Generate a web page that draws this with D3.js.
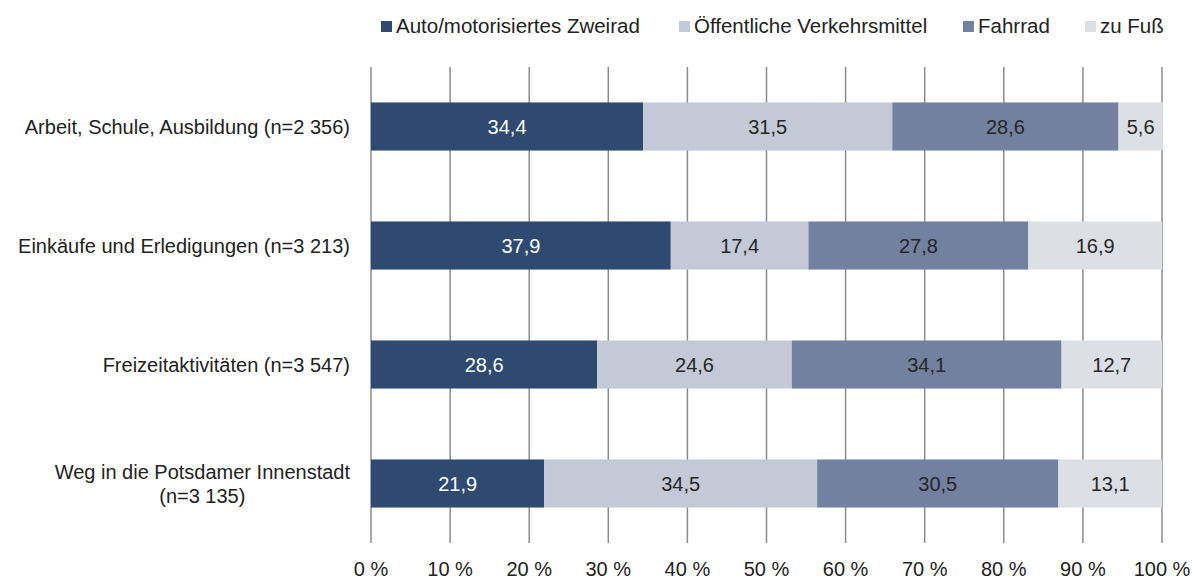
<!DOCTYPE html>
<html>
<head>
<meta charset="utf-8">
<script src="https://cdn.jsdelivr.net/npm/d3@7"></script>
<style>
  html, body { margin: 0; padding: 0; background: #fff; }
  svg { display: block; font-family: "Liberation Sans", Arial, sans-serif; }
</style>
</head>
<body>
<svg id="chart" width="1192" height="581"></svg>
<script>
// Modal split by trip purpose (shares in %)
const categories = [
  ["Arbeit, Schule, Ausbildung (n=2 356)"],
  ["Einkäufe und Erledigungen (n=3 213)"],
  ["Freizeitaktivitäten (n=3 547)"],
  ["Weg in die Potsdamer Innenstadt", "(n=3 135)"]
];
const seriesNames = ["Auto/motorisiertes Zweirad", "Öffentliche Verkehrsmittel", "Fahrrad", "zu Fuß"];
const autoValues = [34.4, 37.9, 28.6, 21.9];
const oepnvValues = [31.5, 17.4, 24.6, 34.5];
const fahrradValues = [28.6, 27.8, 34.1, 30.5];
const fussValues = [5.6, 16.9, 12.7, 13.1];
const tickValues = [0, 10, 20, 30, 40, 50, 60, 70, 80, 90, 100];

const seriesValues = [autoValues, oepnvValues, fahrradValues, fussValues];
const colors = ["#2e4a70", "#c3c9d6", "#72819f", "#dce0e5"];
const labelColors = ["#ffffff", "#262626", "#262626", "#262626"];

const svg = d3.select("#chart");
const margin = { left: 371, right: 30, top: 67, bottom: 38 };
const W = 1192, H = 581;
const fs = 20;

const x = d3.scaleLinear().domain([0, 100]).range([margin.left, 1162]);
const y = d3.scaleBand().domain(d3.range(categories.length))
  .range([margin.top, H - margin.bottom]).paddingInner(0.596).paddingOuter(0.298);

// Rows for stacking
const rows = categories.map((c, i) => {
  const r = { idx: i };
  seriesNames.forEach((s, k) => r[s] = seriesValues[k][i]);
  return r;
});
const stack = d3.stack().keys(seriesNames)(rows);

// Vertical gridlines
const gridTop = margin.top, gridBottom = H - margin.bottom;
svg.append("g").selectAll("line").data(tickValues).join("line")
  .attr("x1", d => x(d)).attr("x2", d => x(d))
  .attr("y1", gridTop).attr("y2", gridBottom)
  .attr("stroke", "#8c8c8c").attr("stroke-width", 1.5);

// Bars
const layers = svg.append("g").selectAll("g").data(stack).join("g")
  .attr("fill", (d, k) => colors[k]);
layers.selectAll("rect").data(d => d).join("rect")
  .attr("x", d => x(d[0]))
  .attr("width", d => x(d[1]) - x(d[0]))
  .attr("y", d => y(d.data.idx))
  .attr("height", y.bandwidth());

// Value labels inside bars
const fmt = v => d3.format(".1f")(v).replace(".", ",");
stack.forEach((layer, k) => {
  svg.append("g").selectAll("text").data(layer).join("text")
    .attr("x", d => (x(d[0]) + x(d[1])) / 2)
    .attr("y", d => y(d.data.idx) + y.bandwidth() / 2)
    .attr("dy", "0.35em")
    .attr("text-anchor", "middle")
    .attr("font-size", fs)
    .attr("fill", labelColors[k])
    .text(d => fmt(d[1] - d[0]));
});

// X axis tick labels
svg.append("g").selectAll("text").data(tickValues).join("text")
  .attr("x", d => x(d)).attr("y", 576)
  .attr("text-anchor", "middle")
  .attr("font-size", fs).attr("fill", "#222")
  .text(d => d + " %");

// Category labels (multi-line labels are centred within their block)
const labelRight = 350;
categories.forEach((lines, i) => {
  const cy = y(i) + y.bandwidth() / 2;
  const g = svg.append("g");
  const lh = 24;
  const texts = lines.map((t, j) => g.append("text")
    .attr("y", cy + (j - (lines.length - 1) / 2) * lh)
    .attr("dy", "0.35em")
    .attr("font-size", fs).attr("fill", "#222")
    .text(t));
  if (lines.length === 1) {
    texts[0].attr("x", labelRight).attr("text-anchor", "end");
  } else {
    const maxW = d3.max(texts, t => t.node().getComputedTextLength());
    texts.forEach(t => t.attr("x", labelRight - maxW / 2).attr("text-anchor", "middle"));
  }
});

// Legend
const legend = svg.append("g");
const legendX = [381, 679, 963, 1085];
seriesNames.forEach((s, k) => {
  legend.append("rect")
    .attr("x", legendX[k]).attr("y", 21).attr("width", 11).attr("height", 11)
    .attr("fill", colors[k]);
  legend.append("text")
    .attr("x", legendX[k] + 15).attr("y", 26).attr("dy", "0.35em")
    .attr("font-size", 20.5).attr("fill", "#222")
    .text(s);
});
</script>
</body>
</html>
